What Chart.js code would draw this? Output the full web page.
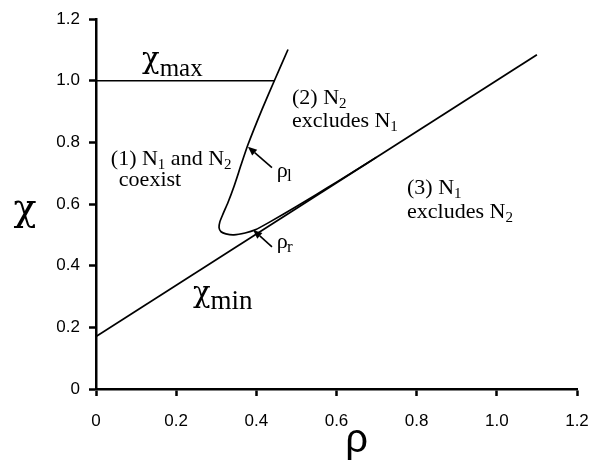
<!DOCTYPE html>
<html>
<head>
<meta charset="utf-8">
<script src="https://cdn.jsdelivr.net/npm/chart.js@4/dist/chart.umd.min.js"></script>
<style>
  html, body { margin: 0; padding: 0; background: #fff; }
  #wrap { width: 592px; height: 465px; }
</style>
</head>
<body>
<div id="wrap"><canvas id="c" width="592" height="465"></canvas></div>
<script>
// ---- data ----
const tickValues = [0, 0.2, 0.4, 0.6, 0.8, 1.0, 1.2];
const tickLabels = ['0', '0.2', '0.4', '0.6', '0.8', '1.0', '1.2'];

const chiMinRho = [0, 1.1];
const chiMinChi = [0.17, 1.084];

const chiMaxRho = [0, 0.446];
const chiMaxChi = [1.0, 1.0];

// boundary curve: rho_l branch (top) around the vertex to rho_r branch
const boundaryRho = [0.479, 0.446, 0.414, 0.379, 0.362, 0.344, 0.329, 0.317, 0.309, 0.307, 0.312, 0.324, 0.344, 0.372, 0.397, 0.434, 0.50, 0.55, 0.60, 0.65, 0.70];
const boundaryChi = [1.101, 1.003, 0.906, 0.792, 0.727, 0.656, 0.604, 0.568, 0.542, 0.523, 0.510, 0.503, 0.500, 0.506, 0.516, 0.542, 0.592, 0.631, 0.671, 0.711, 0.752];

// annotations (data coordinates of text start / arrows)
const regionLabels = [
  { x: 0.037, y: 0.727, parts: [['(1) N', 0], ['1', 1], [' and N', 0], ['2', 1]] },
  { x: 0.057, y: 0.659, parts: [['coexist', 0]] },
  { x: 0.489, y: 0.925, parts: [['(2) N', 0], ['2', 1]] },
  { x: 0.489, y: 0.851, parts: [['excludes N', 0], ['1', 1]] },
  { x: 0.776, y: 0.633, parts: [['(3) N', 0], ['1', 1]] },
  { x: 0.776, y: 0.555, parts: [['excludes N', 0], ['2', 1]] }
];
const arrowTails = [[0.439, 0.718], [0.439, 0.461]];
const arrowTips = [[0.379, 0.786], [0.392, 0.516]];

const pts = (xs, ys) => xs.map((x, i) => ({ x: x, y: ys[i] }));

const serif = '"Liberation Serif", "Times New Roman", serif';
const greekSerif = '"DejaVu Serif", "Liberation Serif", serif';
const sans = '"Liberation Sans", Arial, sans-serif';

function drawParts(ctx, x, y, parts, size, subSize, subDy) {
  let cx = x;
  for (const [t, sub] of parts) {
    ctx.font = (sub ? subSize : size) + 'px ' + serif;
    ctx.fillText(t, cx, y + (sub ? subDy : 0));
    cx += ctx.measureText(t).width;
  }
}

const annot = {
  id: 'annot',
  afterDatasetsDraw(chart) {
    const ctx = chart.ctx;
    const xs = chart.scales.x, ys = chart.scales.y;
    ctx.save();
    ctx.fillStyle = '#000';
    ctx.strokeStyle = '#000';
    ctx.textBaseline = 'alphabetic';
    ctx.textAlign = 'left';
    for (const r of regionLabels) {
      drawParts(ctx, xs.getPixelForValue(r.x), ys.getPixelForValue(r.y), r.parts, 22, 15, 4);
    }
    // chi_max
    let px = xs.getPixelForValue(0.115), py = ys.getPixelForValue(1.042);
    ctx.font = '29px ' + greekSerif; ctx.fillText('χ', px, py);
    px += ctx.measureText('χ').width;
    ctx.font = '25px ' + serif; ctx.fillText('max', px, py + 8);
    // chi_min
    px = xs.getPixelForValue(0.242); py = ys.getPixelForValue(0.282);
    ctx.font = '29px ' + greekSerif; ctx.fillText('χ', px, py);
    px += ctx.measureText('χ').width;
    ctx.font = '27px ' + serif; ctx.fillText('min', px, py + 7);
    // rho_l, rho_r
    px = xs.getPixelForValue(0.451); py = ys.getPixelForValue(0.688);
    ctx.font = '22px ' + serif; ctx.fillText('ρ', px, py);
    ctx.font = '17px ' + serif; ctx.fillText('l', px + ctx.measureText('ρ').width * 1.2, py + 4);
    px = xs.getPixelForValue(0.451); py = ys.getPixelForValue(0.458);
    ctx.font = '22px ' + serif; ctx.fillText('ρ', px, py);
    ctx.font = '17px ' + serif; ctx.fillText('r', px + ctx.measureText('ρ').width * 1.2, py + 4);
    // arrows
    ctx.lineWidth = 1.6;
    for (let i = 0; i < arrowTips.length; i++) {
      const x1 = xs.getPixelForValue(arrowTails[i][0]), y1 = ys.getPixelForValue(arrowTails[i][1]);
      const x2 = xs.getPixelForValue(arrowTips[i][0]), y2 = ys.getPixelForValue(arrowTips[i][1]);
      const a = Math.atan2(y2 - y1, x2 - x1);
      const hl = 9, hw = 3.8;
      const bx = x2 - hl * Math.cos(a), by = y2 - hl * Math.sin(a);
      ctx.beginPath(); ctx.moveTo(x1, y1); ctx.lineTo(bx, by); ctx.stroke();
      ctx.beginPath();
      ctx.moveTo(x2, y2);
      ctx.lineTo(bx + hw * Math.sin(a), by - hw * Math.cos(a));
      ctx.lineTo(bx - hw * Math.sin(a), by + hw * Math.cos(a));
      ctx.closePath(); ctx.fill();
    }
    // axis titles
    ctx.textAlign = 'center';
    ctx.textBaseline = 'middle';
    ctx.font = '38px ' + greekSerif;
    ctx.fillText('χ', 25, ys.getPixelForValue(0.58));
    ctx.font = '40px ' + sans;
    ctx.fillText('ρ', xs.getPixelForValue(0.65), 441);
    ctx.restore();
  }
};

const axisCommon = {
  type: 'linear',
  min: 0,
  max: 1.2,
  afterBuildTicks: (s) => { s.ticks = tickValues.map(v => ({ value: v })); },
  grid: { display: true, drawOnChartArea: false, drawTicks: true, tickLength: 7, tickWidth: 2.5, tickColor: '#000' },
  border: { display: true, color: '#000', width: 2.5 }
};

new Chart(document.getElementById('c'), {
  type: 'scatter',
  data: {
    datasets: [
      { data: pts(chiMinRho, chiMinChi), showLine: true, borderColor: '#000', borderWidth: 1.8, pointRadius: 0, fill: false },
      { data: pts(chiMaxRho, chiMaxChi), showLine: true, borderColor: '#000', borderWidth: 1.5, pointRadius: 0, fill: false },
      { data: pts(boundaryRho, boundaryChi), showLine: true, borderColor: '#000', borderWidth: 1.7, pointRadius: 0, fill: false, tension: 0.2 }
    ]
  },
  options: {
    responsive: false,
    animation: false,
    layout: { padding: { top: 19, right: 15, left: 0, bottom: 0 } },
    plugins: { legend: { display: false }, tooltip: { enabled: false } },
    scales: {
      x: Object.assign({}, axisCommon, {
        position: 'bottom',
        afterFit: (s) => { s.height = 76; s.paddingLeft = 0; s.paddingRight = 0; },
        ticks: { callback: (v, i) => tickLabels[i], color: '#000', font: { family: sans, size: 17 }, padding: 15, maxRotation: 0, autoSkip: false }
      }),
      y: Object.assign({}, axisCommon, {
        position: 'left',
        afterFit: (s) => { s.width = 96; s.paddingTop = 0; s.paddingBottom = 0; },
        ticks: { callback: (v, i) => tickLabels[i], color: '#000', font: { family: sans, size: 17 }, padding: 9, autoSkip: false }
      })
    }
  },
  plugins: [annot]
});
</script>
</body>
</html>
